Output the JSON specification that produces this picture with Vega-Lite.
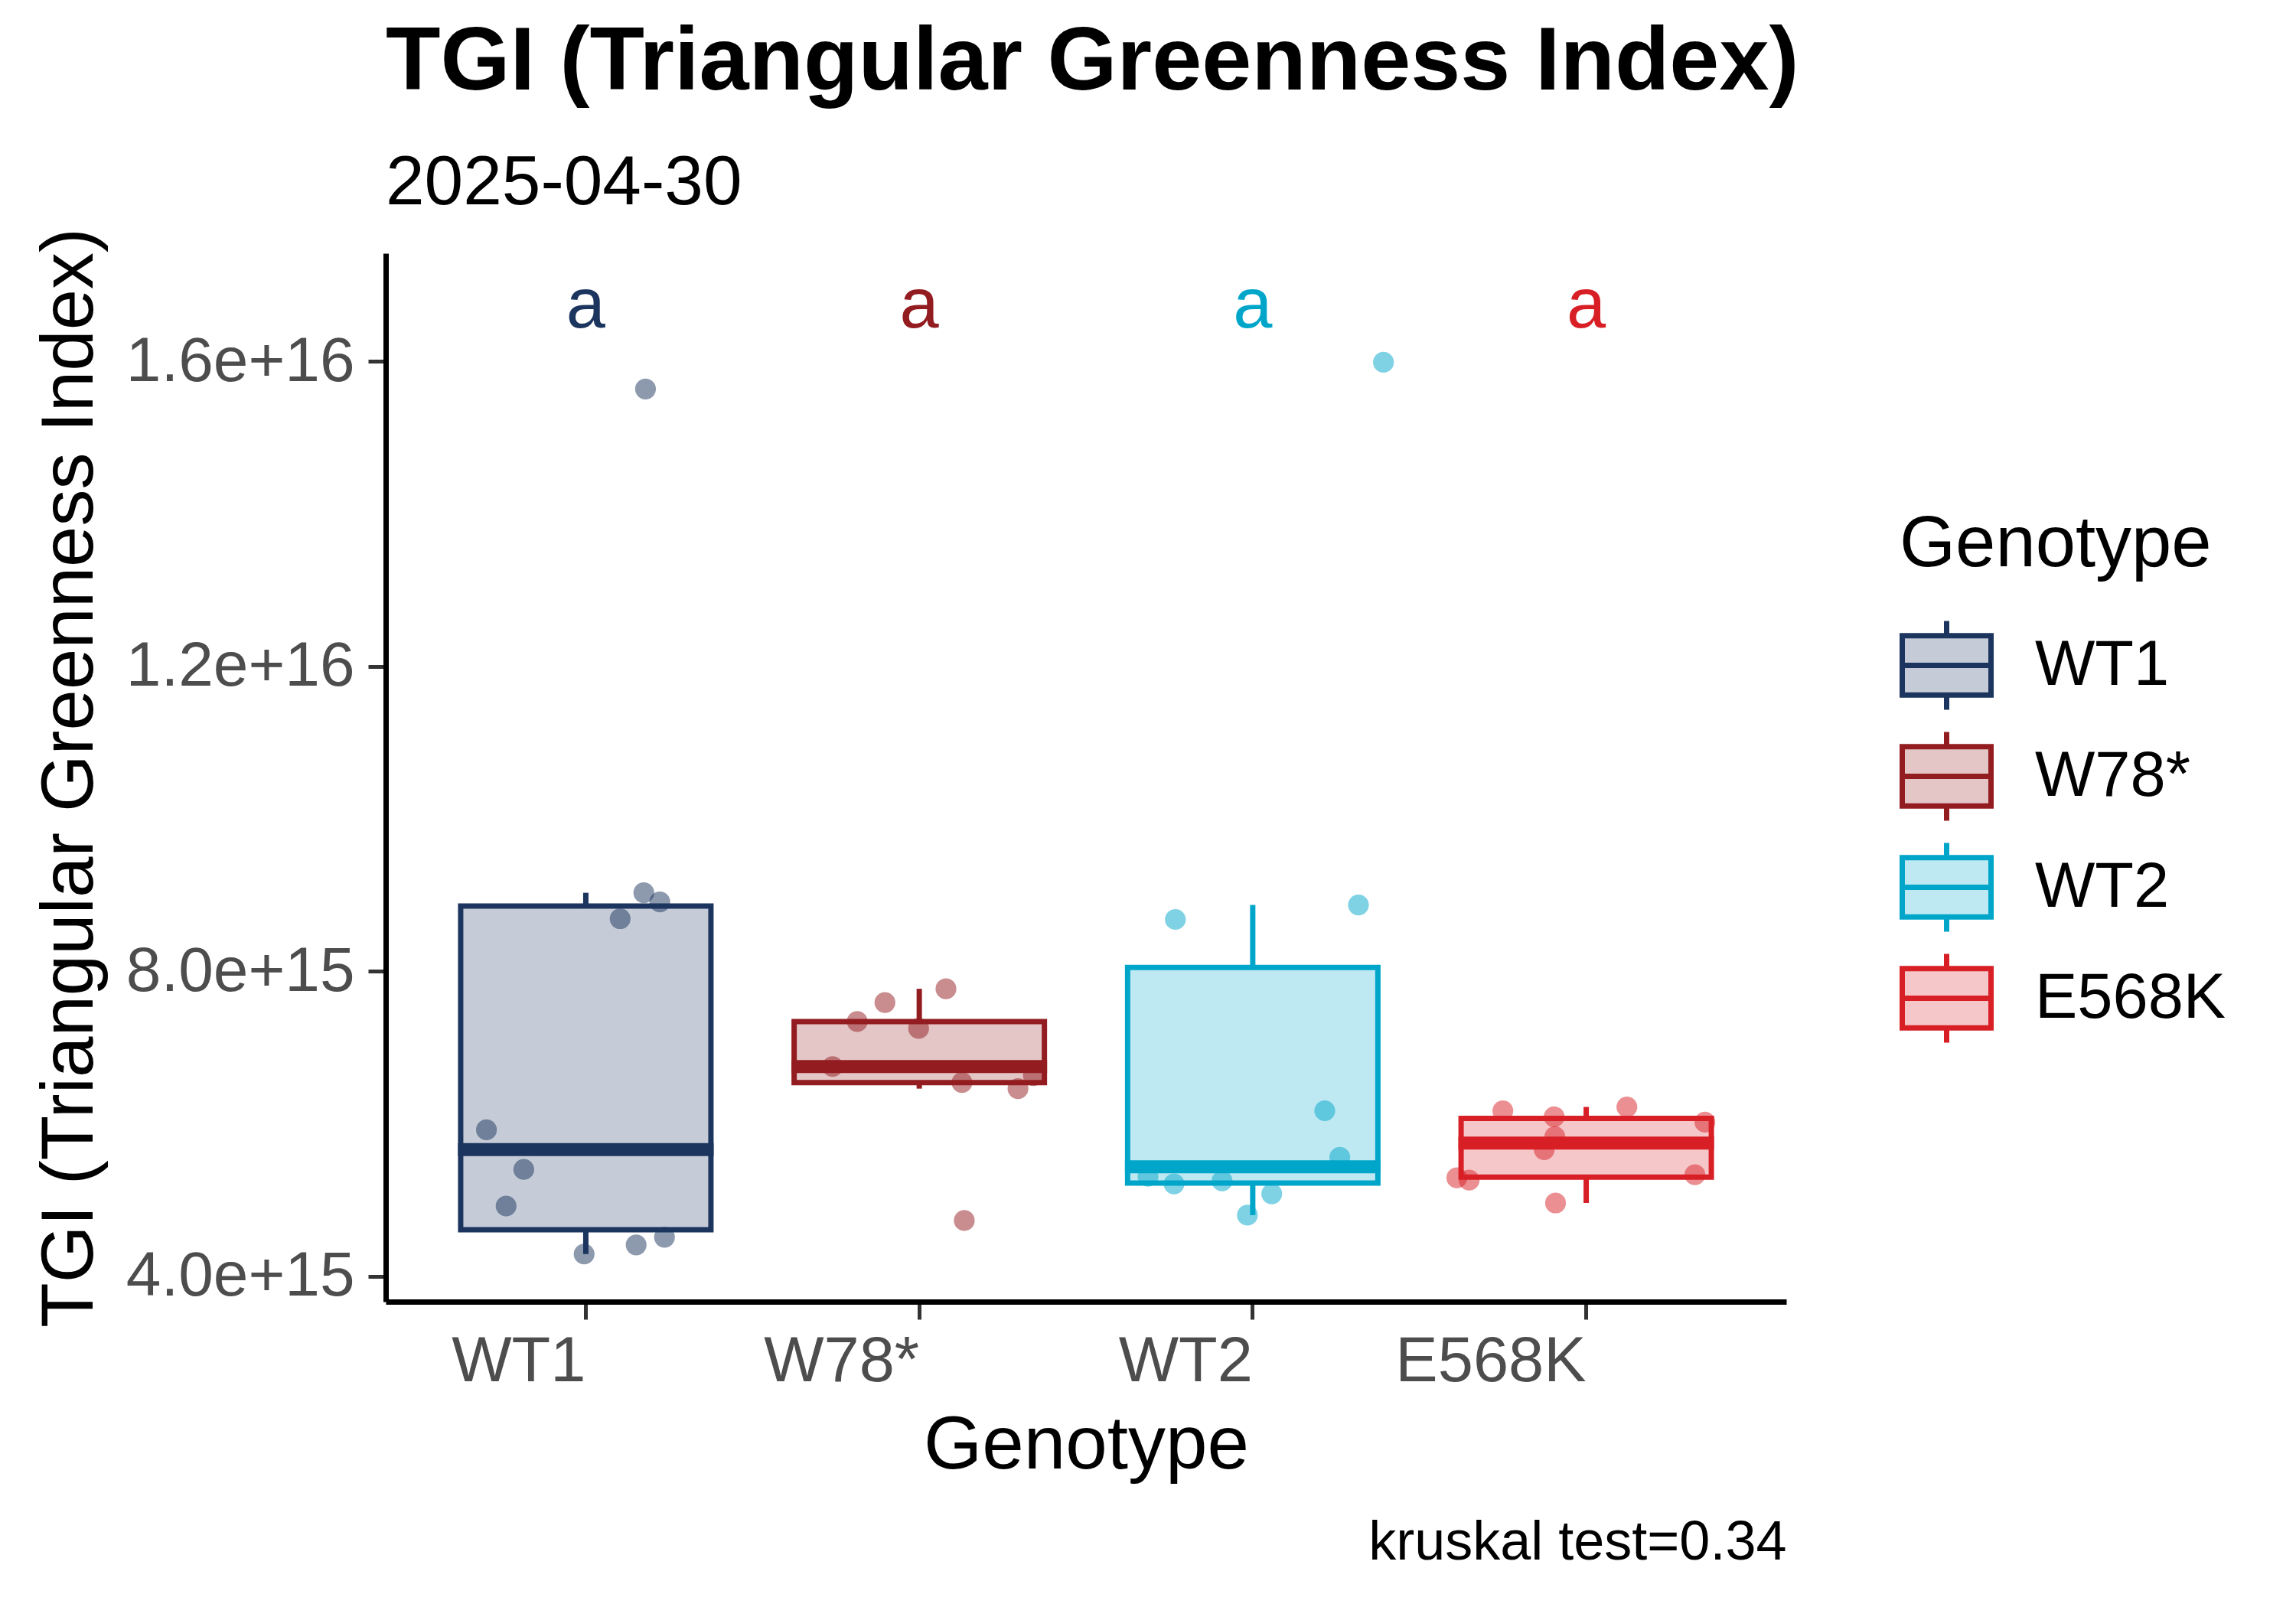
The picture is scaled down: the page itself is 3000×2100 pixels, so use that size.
{
  "$schema": "https://vega.github.io/schema/vega-lite/v6.json",
  "width": 1830,
  "height": 1370,
  "autosize": {"type": "none"},
  "padding": {"left": 504, "top": 331, "right": 666, "bottom": 399},
  "background": "white",
  "title": {
    "text": "TGI (Triangular Greenness Index)",
    "subtitle": "2025-04-30",
    "anchor": "start",
    "frame": "group",
    "fontSize": 117,
    "fontWeight": "bold",
    "color": "black",
    "subtitleFontSize": 91,
    "subtitleColor": "black",
    "subtitlePadding": 53,
    "offset": 11
  },
  "datasets": {
    "points": [
      {"Genotype": "WT1", "TGI": 9.03e15, "jitter": 0.174},
      {"Genotype": "WT1", "TGI": 8.91e15, "jitter": 0.222},
      {"Genotype": "WT1", "TGI": 8.69e15, "jitter": 0.103},
      {"Genotype": "WT1", "TGI": 5.92e15, "jitter": -0.298},
      {"Genotype": "WT1", "TGI": 5.40e15, "jitter": -0.186},
      {"Genotype": "WT1", "TGI": 4.92e15, "jitter": -0.239},
      {"Genotype": "WT1", "TGI": 4.29e15, "jitter": -0.005},
      {"Genotype": "WT1", "TGI": 4.41e15, "jitter": 0.151},
      {"Genotype": "WT1", "TGI": 4.51e15, "jitter": 0.236},
      {"Genotype": "WT1", "TGI": 15.64e15, "jitter": 0.179},
      {"Genotype": "W78*", "TGI": 7.77e15, "jitter": 0.080},
      {"Genotype": "W78*", "TGI": 7.59e15, "jitter": -0.103},
      {"Genotype": "W78*", "TGI": 7.34e15, "jitter": -0.186},
      {"Genotype": "W78*", "TGI": 7.25e15, "jitter": -0.002},
      {"Genotype": "W78*", "TGI": 6.75e15, "jitter": -0.260},
      {"Genotype": "W78*", "TGI": 6.63e15, "jitter": 0.342},
      {"Genotype": "W78*", "TGI": 6.54e15, "jitter": 0.128},
      {"Genotype": "W78*", "TGI": 6.46e15, "jitter": 0.296},
      {"Genotype": "W78*", "TGI": 4.73e15, "jitter": 0.135},
      {"Genotype": "WT2", "TGI": 8.68e15, "jitter": -0.232},
      {"Genotype": "WT2", "TGI": 8.87e15, "jitter": 0.317},
      {"Genotype": "WT2", "TGI": 6.17e15, "jitter": 0.216},
      {"Genotype": "WT2", "TGI": 5.56e15, "jitter": 0.261},
      {"Genotype": "WT2", "TGI": 5.31e15, "jitter": -0.314},
      {"Genotype": "WT2", "TGI": 5.21e15, "jitter": -0.236},
      {"Genotype": "WT2", "TGI": 5.25e15, "jitter": -0.092},
      {"Genotype": "WT2", "TGI": 5.08e15, "jitter": 0.057},
      {"Genotype": "WT2", "TGI": 4.80e15, "jitter": -0.016},
      {"Genotype": "WT2", "TGI": 15.99e15, "jitter": 0.392},
      {"Genotype": "E568K", "TGI": 6.17e15, "jitter": -0.250},
      {"Genotype": "E568K", "TGI": 6.09e15, "jitter": -0.096},
      {"Genotype": "E568K", "TGI": 6.22e15, "jitter": 0.122},
      {"Genotype": "E568K", "TGI": 6.02e15, "jitter": 0.356},
      {"Genotype": "E568K", "TGI": 5.83e15, "jitter": -0.094},
      {"Genotype": "E568K", "TGI": 5.66e15, "jitter": -0.126},
      {"Genotype": "E568K", "TGI": 5.29e15, "jitter": -0.388},
      {"Genotype": "E568K", "TGI": 5.26e15, "jitter": -0.351},
      {"Genotype": "E568K", "TGI": 5.33e15, "jitter": 0.326},
      {"Genotype": "E568K", "TGI": 4.96e15, "jitter": -0.092}
    ],
    "boxes": [
      {"Genotype": "WT1", "lower": 4.29e15, "q1": 4.61e15, "median": 5.66e15, "q3": 8.855e15, "upper": 9.03e15},
      {"Genotype": "W78*", "lower": 6.46e15, "q1": 6.54e15, "median": 6.75e15, "q3": 7.34e15, "upper": 7.77e15},
      {"Genotype": "WT2", "lower": 4.80e15, "q1": 5.22e15, "median": 5.435e15, "q3": 8.05e15, "upper": 8.87e15},
      {"Genotype": "E568K", "lower": 4.96e15, "q1": 5.30e15, "median": 5.745e15, "q3": 6.07e15, "upper": 6.22e15}
    ],
    "letters": [
      {"Genotype": "WT1", "letter": "a", "ypos": 16.79e15},
      {"Genotype": "W78*", "letter": "a", "ypos": 16.79e15},
      {"Genotype": "WT2", "letter": "a", "ypos": 16.79e15},
      {"Genotype": "E568K", "letter": "a", "ypos": 16.79e15}
    ]
  },
  "layer": [
    {
      "layer": [
        {
          "data": {"name": "points"},
          "mark": {"type": "circle", "size": 740, "fillOpacity": 0.5},
          "encoding": {
            "x": {
              "field": "Genotype",
              "type": "nominal",
              "title": "Genotype",
              "scale": {"type": "band", "domain": ["WT1", "W78*", "WT2", "E568K"], "paddingInner": 0.25, "paddingOuter": 0.225},
              "axis": {
                "bandPosition": 0.5,
                "labelAngle": 0,
                "labelAlign": "right",
                "labelFontSize": 83,
                "labelColor": "#4D4D4D",
                "labelPadding": 14,
                "labelLimit": 1000,
                "tickSize": 23,
                "tickWidth": 5,
                "tickColor": "#333333",
                "domainColor": "black",
                "domainWidth": 7,
                "titleFontSize": 98,
                "titleFontWeight": "normal",
                "titleColor": "black",
                "titlePadding": 20
              }
            },
            "xOffset": {"field": "jitter", "type": "quantitative", "scale": {"domain": [-0.375, 0.375], "zero": false, "nice": false}},
            "y": {
              "field": "TGI",
              "type": "quantitative",
              "title": "TGI (Triangular Greenness Index)",
              "scale": {"domain": [3.665e15, 17.42e15], "nice": false, "zero": false},
              "axis": {
                "values": [4e15, 8e15, 1.2e16, 1.6e16],
                "format": ".1e",
                "labelFontSize": 82,
                "labelColor": "#4D4D4D",
                "labelPadding": 18,
                "labelLimit": 1000,
                "tickSize": 23,
                "tickWidth": 5,
                "tickColor": "#333333",
                "domainColor": "black",
                "domainWidth": 7,
                "titleFontSize": 96,
                "titleFontWeight": "normal",
                "titleColor": "black",
                "titleX": -364,
                "titleLimit": 2000
              }
            },
            "color": {
              "field": "Genotype",
              "type": "nominal",
              "scale": {"domain": ["WT1", "W78*", "WT2", "E568K"], "range": ["#1C355E", "#931C20", "#00A6CA", "#D81F26"]},
              "legend": {
                "orient": "none",
                "legendX": 1978,
                "legendY": 335,
                "title": "Genotype",
                "titleFontSize": 94,
                "titleFontWeight": "normal",
                "titleColor": "black",
                "titlePadding": 48,
                "titleLimit": 1000,
                "padding": 0,
                "symbolType": "M-1,-0.67H1V0.67H-1Z M-1,0H1 M0,-0.67V-1 M0,0.67V1",
                "symbolSize": 13456,
                "symbolStrokeWidth": 7,
                "symbolOpacity": 1,
                "labelFontSize": 83,
                "labelColor": "black",
                "labelOffset": 54,
                "labelLimit": 1000,
                "rowPadding": 0,
                "encode": {
                  "symbols": {
                    "update": {
                      "fill": {"scale": "color", "field": "value"},
                      "fillOpacity": {"value": 0.25},
                      "stroke": {"scale": "color", "field": "value"},
                      "strokeOpacity": {"value": 1},
                      "strokeWidth": {"value": 7},
                      "opacity": {"value": 1}
                    }
                  }
                }
              }
            }
          }
        },
        {
          "data": {"name": "boxes"},
          "mark": {"type": "bar", "width": 327, "fillOpacity": 0.25, "strokeWidth": 7},
          "encoding": {
            "x": {"field": "Genotype", "type": "nominal", "title": "Genotype"},
            "y": {"field": "q1", "type": "quantitative", "title": "TGI (Triangular Greenness Index)"},
            "y2": {"field": "q3"},
            "color": {"field": "Genotype", "type": "nominal"},
            "stroke": {
              "field": "Genotype",
              "type": "nominal",
              "scale": {"domain": ["WT1", "W78*", "WT2", "E568K"], "range": ["#1C355E", "#931C20", "#00A6CA", "#D81F26"]},
              "legend": null
            }
          }
        },
        {
          "data": {"name": "boxes"},
          "mark": {"type": "rule", "strokeWidth": 7},
          "encoding": {
            "x": {"field": "Genotype", "type": "nominal", "title": "Genotype"},
            "y": {"field": "q3", "type": "quantitative", "title": "TGI (Triangular Greenness Index)"},
            "y2": {"field": "upper"},
            "color": {"field": "Genotype", "type": "nominal"}
          }
        },
        {
          "data": {"name": "boxes"},
          "mark": {"type": "rule", "strokeWidth": 7},
          "encoding": {
            "x": {"field": "Genotype", "type": "nominal", "title": "Genotype"},
            "y": {"field": "lower", "type": "quantitative", "title": "TGI (Triangular Greenness Index)"},
            "y2": {"field": "q1"},
            "color": {"field": "Genotype", "type": "nominal"}
          }
        },
        {
          "data": {"name": "boxes"},
          "mark": {"type": "tick", "thickness": 17, "size": 334, "opacity": 1},
          "encoding": {
            "x": {"field": "Genotype", "type": "nominal", "title": "Genotype"},
            "y": {"field": "median", "type": "quantitative", "title": "TGI (Triangular Greenness Index)"},
            "color": {"field": "Genotype", "type": "nominal"}
          }
        }
      ]
    },
    {
      "data": {"name": "letters"},
      "mark": {"type": "text", "fontSize": 92, "baseline": "middle", "align": "center", "dy": 6},
      "encoding": {
        "x": {
          "field": "Genotype",
          "type": "nominal",
          "title": "kruskal test=0.34",
          "scale": {"type": "band", "domain": ["WT1", "W78*", "WT2", "E568K"], "paddingInner": 0.25, "paddingOuter": 0.225},
          "axis": {
            "orient": "bottom",
            "offset": 259,
            "labels": false,
            "ticks": false,
            "domain": false,
            "titleAnchor": "end",
            "titleFontSize": 72,
            "titleFontWeight": "normal",
            "titleColor": "black",
            "titlePadding": 20,
            "titleLimit": 1000
          }
        },
        "y": {"field": "ypos", "type": "quantitative", "title": "TGI (Triangular Greenness Index)"},
        "text": {"field": "letter"},
        "color": {"field": "Genotype", "type": "nominal"}
      }
    }
  ],
  "resolve": {"scale": {"x": "independent"}, "axis": {"x": "independent"}},
  "config": {
    "font": "Liberation Sans",
    "view": {"stroke": null},
    "axis": {"grid": false}
  }
}
